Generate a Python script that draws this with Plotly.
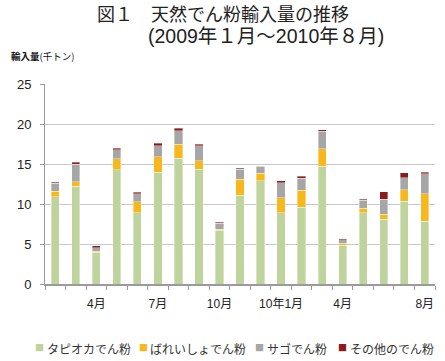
import plotly.graph_objects as go

months = ["2009-02", "2009-03", "2009-04", "2009-05", "2009-06", "2009-07", "2009-08",
          "2009-09", "2009-10", "2009-11", "2009-12", "2010-01", "2010-02", "2010-03",
          "2010-04", "2010-05", "2010-06", "2010-07", "2010-08"]
tapioca = [10.9, 12.25, 3.95, 14.3, 8.9, 14.0, 15.7, 14.35, 6.7, 11.1, 12.9, 8.9, 9.6, 14.75, 4.85, 8.9, 8.1, 10.35, 7.85]
potato = [0.7, 0.55, 0.15, 1.35, 1.4, 1.9, 1.8, 1.05, 0.15, 2.0, 0.95, 1.9, 2.15, 2.15, 0.25, 0.55, 0.65, 1.45, 3.45]
sago = [1.0, 2.2, 0.45, 1.15, 1.0, 1.4, 1.65, 1.9, 0.75, 1.25, 0.85, 1.85, 1.5, 2.2, 0.45, 1.05, 1.85, 1.5, 2.5]
other = [0.15, 0.2, 0.25, 0.2, 0.2, 0.3, 0.3, 0.2, 0.15, 0.15, 0.1, 0.25, 0.2, 0.2, 0.1, 0.1, 0.95, 0.6, 0.2]

labeled_months = ["2009-04", "2009-07", "2009-10", "2010-01", "2010-04", "2010-08"]
tick_labels = ["4月", "7月", "10月", "10年1月", "4月", "8月"]
series_names = ["タピオカでん粉", "ばれいしょでん粉", "サゴでん粉", "その他のでん粉"]
colors = ["#bfd39c", "#f6b81c", "#a6a6a6", "#8e1b1b"]

FONT = "Liberation Sans, Arial, Noto Sans CJK JP"
CJK = "Noto Sans CJK JP"
x = list(range(len(months)))

fig = go.Figure()
for name, vals, col in zip(series_names, [tapioca, potato, sago, other], colors):
    fig.add_trace(go.Bar(x=x, y=vals, name=name, marker=dict(color=col, line=dict(color="rgba(255,255,255,0.6)", width=0.6)),
                         customdata=months, hovertemplate="%{customdata}: %{y}<extra>" + name + "</extra>"))

W, H = 445, 361
ml, mr, mt, mb = 45, 10, 84, 77
pw, ph = W - ml - mr, H - mt - mb

def px(xp):
    return (xp - ml) / pw

def py(yp):
    return (H - mb - yp) / ph

fig.update_layout(
    width=W, height=H, barmode="stack", bargap=0.6,
    margin=dict(l=ml, r=mr, t=mt, b=mb, autoexpand=False),
    paper_bgcolor="white", plot_bgcolor="white",
    showlegend=False,
    font=dict(family=FONT, color="#222"),
    xaxis=dict(range=[-0.5, len(months) - 0.5], tickvals=[months.index(m) for m in labeled_months],
               ticktext=tick_labels, ticks="", showgrid=False, showline=True, linecolor="#9a9a9a", linewidth=1.5,
               tickfont=dict(size=12, color="#222"), ticklabelstandoff=8,
               minor=dict(tickvals=[i - 0.5 for i in range(len(months) + 1)], ticks="outside", ticklen=4,
                          tickcolor="#9a9a9a", showgrid=False),
               zeroline=False, fixedrange=True),
    yaxis=dict(range=[0, 25], dtick=5, showgrid=True, gridcolor="#c8c8c8", gridwidth=1,
               showline=True, linecolor="#9a9a9a", linewidth=1, ticks="outside", ticklen=4, tickcolor="#9a9a9a",
               tickfont=dict(size=13, color="#222"), ticklabelstandoff=6, zeroline=False, fixedrange=True),
)

ann = []
ann.append(dict(text="図１　天然でん粉輸入量の推移", x=px(96), y=py(14.5), xref="paper", yref="paper",
                xanchor="left", yanchor="middle", showarrow=False, font=dict(size=18, color="#222"), borderpad=0))
ann.append(dict(text="(2009年１月～2010年８月)", x=px(147), y=py(36), xref="paper", yref="paper",
                xanchor="left", yanchor="middle", showarrow=False, font=dict(size=19.5, color="#222"), borderpad=0))
ann.append(dict(text="<b>輸入量</b>(千トン)", x=px(9), y=py(56), xref="paper", yref="paper",
                xanchor="left", yanchor="middle", showarrow=False, font=dict(size=9.5, color="#111", family=CJK)))
square_x = [39.5, 143.5, 259, 342.5]
text_x = [45, 148, 265, 348]
for sx, tx, name, col in zip(square_x, text_x, series_names, colors):
    ann.append(dict(text="■", x=px(sx), y=py(347.5), xref="paper", yref="paper", xanchor="center", yanchor="middle",
                    showarrow=False, font=dict(size=9, color=col, family=CJK)))
    ann.append(dict(text=name, x=px(tx), y=py(348), xref="paper", yref="paper", xanchor="left", yanchor="middle",
                    showarrow=False, font=dict(size=12, color="#333", family=CJK)))
fig.update_layout(annotations=ann)

fig.write_html("out.html", config={"displayModeBar": False},
               post_script="document.body.style.margin='0';document.body.style.padding='0';")
